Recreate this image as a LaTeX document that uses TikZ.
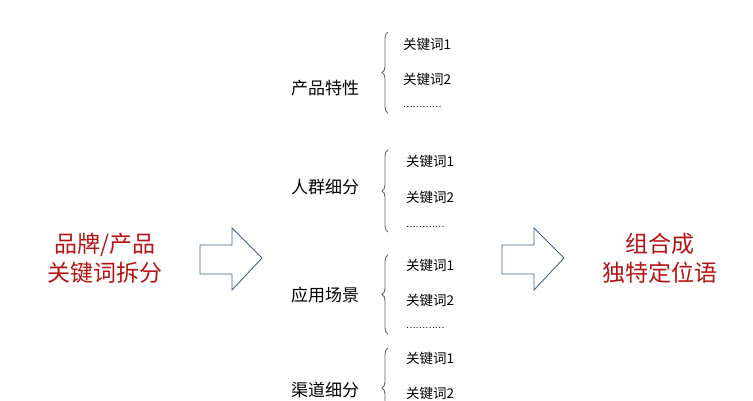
\documentclass[tikz,border=0pt]{standalone}
\usepackage{fontspec}
\newfontfamily\cjk{Noto Sans CJK SC}
\usetikzlibrary{decorations.pathreplacing}
\definecolor{arrowblue}{RGB}{70,100,140}
\definecolor{brandred}{RGB}{180,20,20}

\begin{document}
\begin{tikzpicture}[x=1pt,y=-1pt]
\tikzset{every node/.style={inner sep=0pt,font=\cjk},
  big/.style={text=brandred,font=\cjk\fontsize{23}{29}\selectfont,align=center},
  cat/.style={font=\cjk\fontsize{17}{20}\selectfont},
  kw/.style={anchor=west,font=\cjk\fontsize{13.5}{16}\selectfont},
  dots/.style={anchor=west,font=\cjk\fontsize{9}{11}\selectfont},
  bigarrow/.style={draw=arrowblue,line width=0.9pt,fill=white},
  grp/.style={draw=gray!80!black,line width=0.9pt,decorate,decoration={brace,amplitude=6pt}}}
\useasboundingbox (0,0) rectangle (753,400);
\clip (0,0) rectangle (753,400);
% left and right
\node[big] (brand) at (105,258) {品牌/产品\\关键词拆分};
\node[big] (combo) at (660,258) {组合成\\独特定位语};
\draw[bigarrow] (200,245) -- (232,245) -- (232,228) -- (262,258) -- (232,290) -- (232,274) -- (200,274) -- cycle;
\draw[bigarrow] (502,245) -- (534,245) -- (534,228) -- (564,258) -- (534,290) -- (534,274) -- (502,274) -- cycle;
% groups
\node[cat] (c1) at (325,88) {产品特性};
\draw[grp] (388,113) -- (388,32);
\node[kw] (k11) at (403,44) {关键词1};
\node[kw] (k12) at (403,79) {关键词2};
\node[dots] (k13) at (403,107) {…………};
\node[cat] (c2) at (325,187) {人群细分};
\draw[grp] (388,232) -- (388,150);
\node[kw] (k21) at (406,161) {关键词1};
\node[kw] (k22) at (406,197) {关键词2};
\node[dots] (k23) at (406,227) {…………};
\node[cat] (c3) at (325,295) {应用场景};
\draw[grp] (388,334) -- (388,255);
\node[kw] (k31) at (406,265) {关键词1};
\node[kw] (k32) at (406,300) {关键词2};
\node[dots] (k33) at (406,328) {…………};
\node[cat] (c4) at (325,390) {渠道细分};
\draw[grp] (388,428) -- (388,348);
\node[kw] (k41) at (406,358) {关键词1};
\node[kw] (k42) at (406,393) {关键词2};
\end{tikzpicture}
\end{document}
